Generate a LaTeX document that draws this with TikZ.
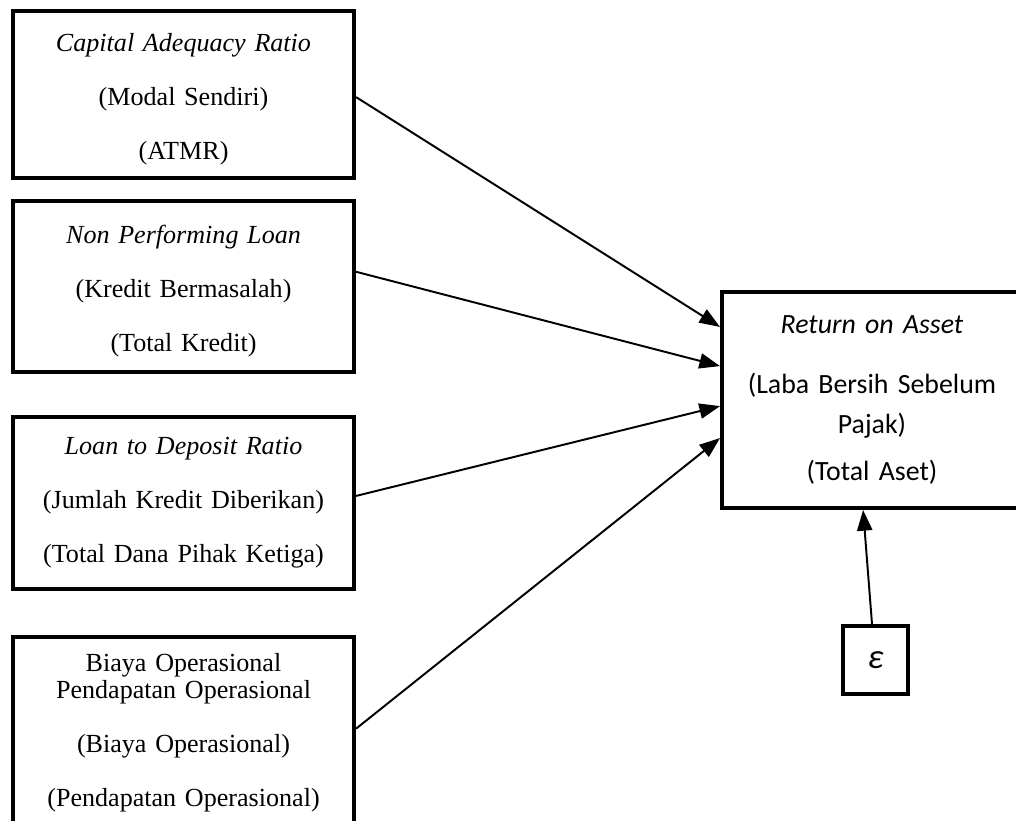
\documentclass[tikz,border=0pt]{standalone}
\usepackage{fontspec}
\setmainfont{Liberation Serif}
\newfontfamily\calibri{Carlito}
\usepackage{tikz}
\usetikzlibrary{arrows.meta, positioning}

\begin{document}
\begin{tikzpicture}[x=0.46pt, y=-0.46pt,
indicator/.style={rectangle, draw=black, line width=1.8pt, minimum width=157pt, text width=150pt, inner sep=0pt, align=center, font=\fontsize{12}{13.8}\selectfont},
target/.style={rectangle, draw=black, line width=1.8pt, minimum width=138pt, minimum height=99.4pt, text width=134pt, inner sep=0pt, align=center, font=\calibri\fontsize{12.8}{18.4}\selectfont},
residual/.style={rectangle, draw=black, line width=1.8pt, minimum width=29.9pt, minimum height=31.3pt, inner sep=0pt, font=\calibri\itshape\fontsize{16}{18}\selectfont},
link/.style={-{Triangle[length=9.5pt, width=7pt]}, line width=0.9pt}
]
	\clip (0,0) rectangle (1016,820);
	\node[indicator, minimum height=76.8pt] (n1) at (183.5,94.5) {\rule{0pt}{13pt}\textit{Capital Adequacy Ratio}\\[11pt](Modal Sendiri)\\[11pt](ATMR)};
	\node[indicator, minimum height=78.7pt, anchor=north, shift={(0pt,-8.7pt)}] (n2) at (n1.south) {\rule{0pt}{13pt}\textit{Non Performing Loan}\\[11pt](Kredit Bermasalah)\\[11pt](Total Kredit)};
	\node[indicator, minimum height=79.1pt, anchor=north, shift={(0pt,-18.9pt)}] (n3) at (n2.south) {\textit{Loan to Deposit Ratio}\\[11pt](Jumlah Kredit Diberikan)\\[11pt](Total Dana Pihak Ketiga)};
	\node[indicator, minimum height=104.4pt, anchor=north, shift={(0pt,-20.2pt)}] (n4) at (n3.south) {Biaya Operasional\\[-1.4pt]Pendapatan Operasional\\[11pt](Biaya Operasional)\\[11pt](Pendapatan Operasional)\\[4.8pt]\mbox{}};
	\node[target] (n5) at (872,400) {\textit{Return on Asset}\\[9.2pt](Laba Bersih Sebelum\\Pajak)\\[2.8pt](Total Aset)};
	\node[residual, anchor=north, shift={(1.6pt,-52.4pt)}] (n6) at (n5.south) {ε};
	\draw[link] ([yshift=-1.2pt]n1.east) -- ([yshift=33.6pt]n5.west);
	\draw[link] ([yshift=6.7pt]n2.east) -- ([yshift=15.6pt]n5.west);
	\draw[link] ([yshift=3.2pt]n3.east) -- ([yshift=-2.8pt]n5.west);
	\draw[link] ([yshift=9.9pt]n4.east) -- ([yshift=-17.5pt]n5.west);
	\draw[link] ([xshift=-1.6pt]n6.north) -- ([xshift=-4.1pt]n5.south);
\end{tikzpicture}
\end{document}
